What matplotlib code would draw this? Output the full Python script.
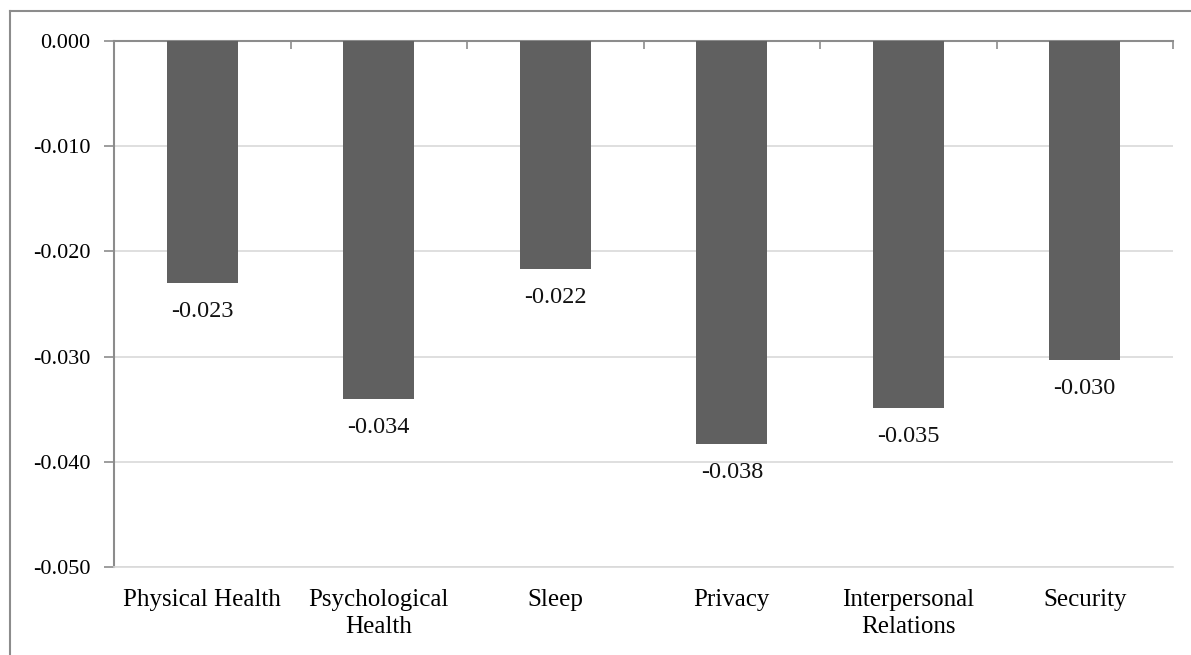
import matplotlib.pyplot as plt
from matplotlib.ticker import MultipleLocator, FixedLocator
from matplotlib.lines import Line2D

categorias = ['Physical Health', 'Psychological\nHealth', 'Sleep', 'Privacy',
              'Interpersonal\nRelations', 'Security']
valores = [-0.0230, -0.0340, -0.0217, -0.0383, -0.0349, -0.0303]

plt.rcParams['font.family'] = ['Liberation Serif', 'DejaVu Serif']

fig = plt.figure(figsize=(11.91, 6.55), dpi=100)
ax = fig.add_axes([114 / 1191, 1 - 567 / 655, (1173 - 114) / 1191, (567 - 41) / 655])

# moldura do gráfico (cortada à direita e embaixo)
fig.add_artist(Line2D([10 / 1191, 10 / 1191], [0, 1 - 11 / 655], color='#8c8c8c', lw=1.5))
fig.add_artist(Line2D([10 / 1191, 1], [1 - 11 / 655, 1 - 11 / 655], color='#8c8c8c', lw=1.5))

x = list(range(len(categorias)))
ax.bar(x, valores, width=0.4, color='#606060', zorder=3)

for xi, v in zip(x, valores):
    ax.annotate(f'{v:.3f}', (xi, v), xytext=(0, -13), textcoords='offset points',
                ha='center', va='top', fontsize=17.5, color='#111111')


def fmt(v, p):
    s = f'{v:.3f}'
    return '0.000' if s == '-0.000' else s


ax.set_xlim(-0.5, len(categorias) - 0.5)
ax.set_ylim(-0.05, 0)
ax.yaxis.set_major_locator(MultipleLocator(0.01))
ax.yaxis.set_major_formatter(fmt)
ax.grid(True, axis='y', color='#d9d9d9', lw=1.2, zorder=0)

ax.set_xticks(x)
ax.set_xticklabels(categorias, linespacing=1.3)
ax.xaxis.set_minor_locator(FixedLocator([i + 0.5 for i in range(len(categorias))]))
ax.tick_params(axis='x', which='major', length=0, pad=16, labelsize=18)
ax.tick_params(axis='x', which='minor', bottom=False, top=True, direction='in',
               length=6, width=1.2, color='#8c8c8c')
ax.tick_params(axis='y', which='major', direction='out', length=7, width=1.2,
               color='#8c8c8c', labelsize=16, pad=10)

ax.spines['right'].set_visible(False)
ax.spines['bottom'].set_color('#d9d9d9')
ax.spines['bottom'].set_linewidth(1.2)
ax.spines['top'].set_color('#8c8c8c')
ax.spines['top'].set_linewidth(1.5)
ax.spines['left'].set_color('#8c8c8c')
ax.spines['left'].set_linewidth(1.5)

fig.savefig('out.png', dpi=100)
